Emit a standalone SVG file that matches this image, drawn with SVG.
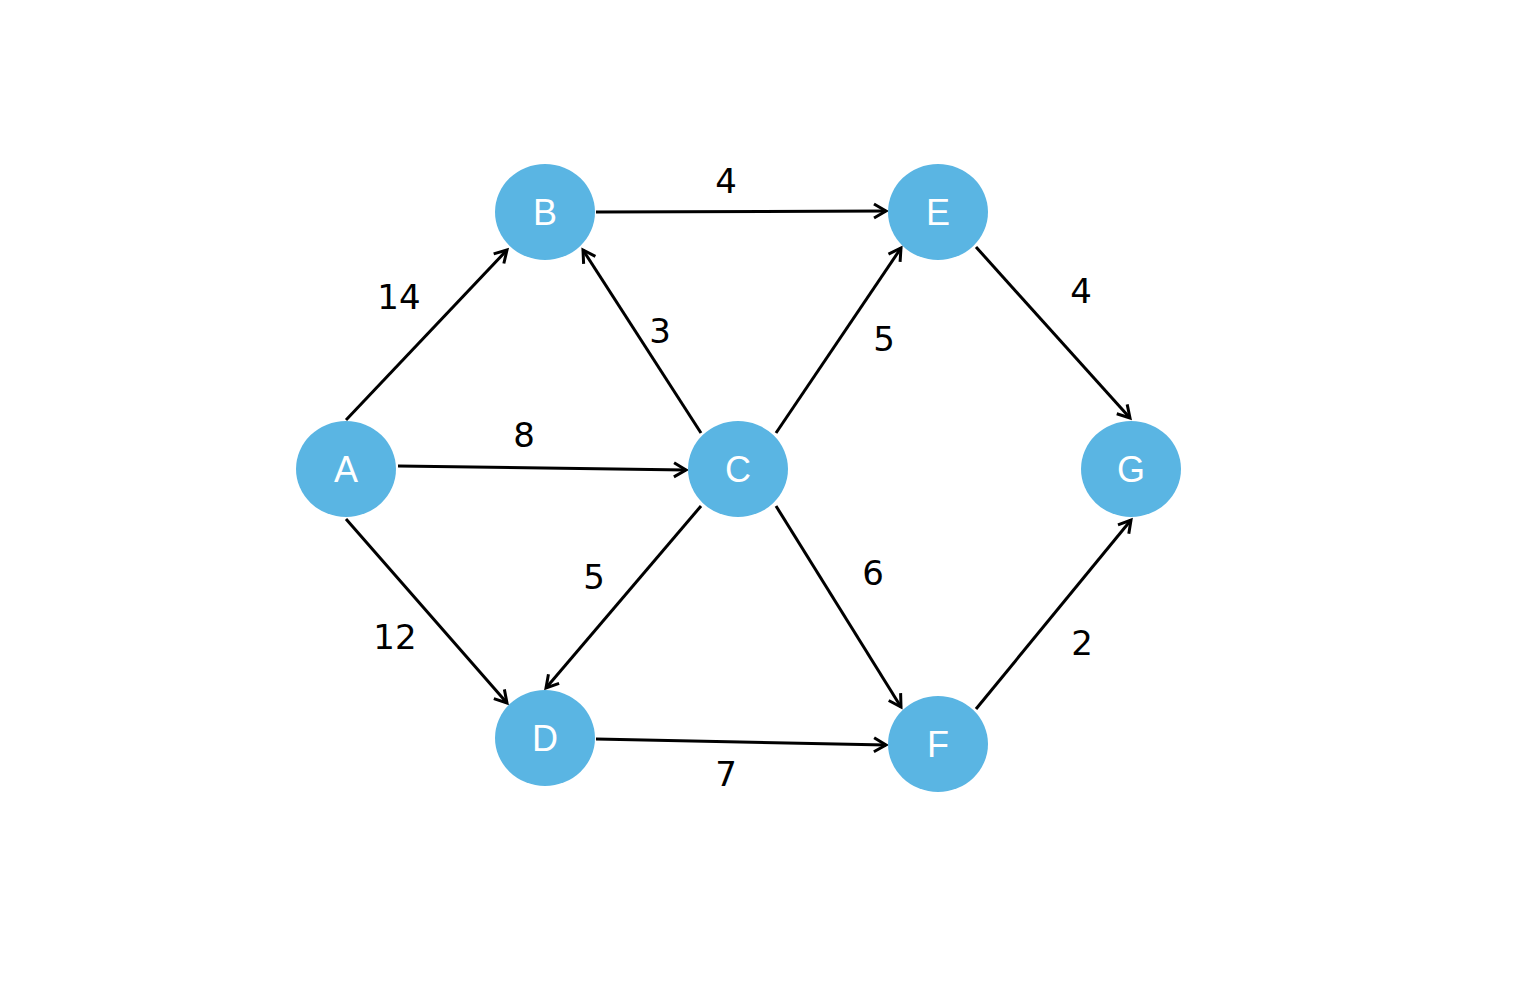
<svg xmlns="http://www.w3.org/2000/svg" width="1530" height="990" viewBox="0 0 1530 990">
<style>
.n{fill:#5ab5e3}
.nt{fill:#fff;font-family:"Liberation Sans",Arial,sans-serif;font-size:36px;text-anchor:middle;dominant-baseline:central}
.e{stroke:#000;stroke-width:3;fill:none;marker-end:url(#ar)}
.l{fill:#000;font-family:"DejaVu Sans",sans-serif;font-size:34px;text-anchor:middle;dominant-baseline:central}
</style>
<defs>
<marker id="ar" markerWidth="20" markerHeight="20" refX="16" refY="10" orient="auto" markerUnits="userSpaceOnUse">
<path d="M4,3 L16,10 L4,17" fill="none" stroke="#000" stroke-width="3"/>
</marker>
</defs>
<rect width="1530" height="990" fill="#fff"/>
<g id="connectors">
<line class="e" x1="346" y1="420" x2="507" y2="250"/>
<line class="e" x1="398" y1="466" x2="686" y2="470"/>
<line class="e" x1="346" y1="519" x2="507" y2="703"/>
<line class="e" x1="701" y1="433" x2="583" y2="250"/>
<line class="e" x1="596" y1="212" x2="886" y2="211"/>
<line class="e" x1="776" y1="433" x2="901" y2="248"/>
<line class="e" x1="701" y1="506" x2="546" y2="688"/>
<line class="e" x1="776" y1="506" x2="901" y2="707"/>
<line class="e" x1="596" y1="739" x2="886" y2="745"/>
<line class="e" x1="976" y1="247" x2="1130" y2="418"/>
<line class="e" x1="976" y1="709" x2="1131" y2="520"/>
<text class="l" x="399" y="297">14</text>
<text class="l" x="524" y="435">8</text>
<text class="l" x="395" y="637">12</text>
<text class="l" x="660" y="331">3</text>
<text class="l" x="726" y="181">4</text>
<text class="l" x="884" y="339">5</text>
<text class="l" x="594" y="577">5</text>
<text class="l" x="873" y="573">6</text>
<text class="l" x="726" y="774">7</text>
<text class="l" x="1081" y="291">4</text>
<text class="l" x="1082" y="643">2</text>
</g>
<g id="A"><ellipse class="n" cx="346" cy="469" rx="50" ry="48"/><text class="nt" x="346" y="469">A</text></g>
<g id="B"><ellipse class="n" cx="545" cy="212" rx="50" ry="48"/><text class="nt" x="545" y="212">B</text></g>
<g id="C"><ellipse class="n" cx="738" cy="469" rx="50" ry="48"/><text class="nt" x="738" y="469">C</text></g>
<g id="D"><ellipse class="n" cx="545" cy="738" rx="50" ry="48"/><text class="nt" x="545" y="738">D</text></g>
<g id="E"><ellipse class="n" cx="938" cy="212" rx="50" ry="48"/><text class="nt" x="938" y="212">E</text></g>
<g id="F"><ellipse class="n" cx="938" cy="744" rx="50" ry="48"/><text class="nt" x="938" y="744">F</text></g>
<g id="G"><ellipse class="n" cx="1131" cy="469" rx="50" ry="48"/><text class="nt" x="1131" y="469">G</text></g>
</svg>
